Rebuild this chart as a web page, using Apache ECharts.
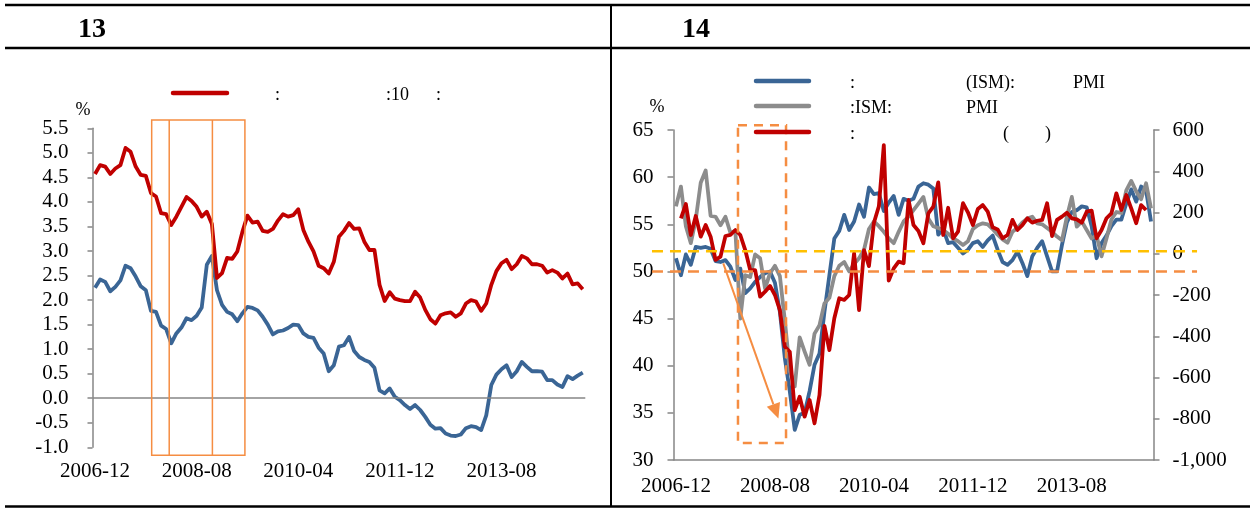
<!DOCTYPE html>
<html lang="en">
<head>
<meta charset="UTF-8">
<title>chart</title>
<style>
  body { margin: 0; background: #fff; }
  #main { width: 1252px; height: 509px; }
</style>
</head>
<body>
<div id="main"></div>
<script src="https://cdn.jsdelivr.net/npm/echarts@6/dist/echarts.min.js"></script>
<script>
// months 2006-12 .. 2014-12 (shared by both panels)
const months = [];
for (let i = 0; i < 97; i++) {
    const t = 2006 * 12 + 11 + i;
    months.push(Math.floor(t / 12) + '-' + String(t % 12 + 1).padStart(2, '0'));
}

// panel 13 (%)
const leftRed = [4.57, 4.75, 4.72, 4.57, 4.68, 4.75, 5.10, 5.02, 4.72, 4.55, 4.53, 4.18, 4.11, 3.77, 3.75, 3.53, 3.70, 3.90, 4.10, 4.02,
    3.90, 3.70, 3.80, 3.55, 2.45, 2.55, 2.86, 2.84, 2.99, 3.39, 3.72, 3.58, 3.60, 3.41, 3.39, 3.45, 3.62, 3.75, 3.70, 3.73,
    3.85, 3.43, 3.19, 2.99, 2.70, 2.65, 2.54, 2.78, 3.29, 3.41, 3.57, 3.45, 3.46, 3.19, 3.02, 3.02, 2.31, 1.98, 2.16, 2.03,
    2.00, 1.98, 1.98, 2.17, 2.05, 1.80, 1.61, 1.52, 1.69, 1.73, 1.75, 1.66, 1.73, 1.93, 2.00, 1.97, 1.78, 1.93, 2.31, 2.59,
    2.75, 2.82, 2.63, 2.73, 2.90, 2.85, 2.73, 2.73, 2.70, 2.56, 2.61, 2.56, 2.44, 2.54, 2.32, 2.34, 2.22];
const leftBlue = [2.25, 2.42, 2.37, 2.18, 2.27, 2.40, 2.70, 2.65, 2.48, 2.28, 2.20, 1.78, 1.76, 1.48, 1.41, 1.12, 1.32, 1.44, 1.63, 1.59,
    1.68, 1.85, 2.72, 2.90, 2.20, 1.90, 1.76, 1.71, 1.57, 1.73, 1.86, 1.84, 1.79, 1.66, 1.50, 1.30, 1.36, 1.38, 1.43, 1.50,
    1.49, 1.32, 1.25, 1.23, 1.03, 0.91, 0.55, 0.67, 1.05, 1.08, 1.25, 0.96, 0.84, 0.78, 0.74, 0.62, 0.16, 0.10, 0.20, 0.03,
    -0.04, -0.14, -0.22, -0.14, -0.24, -0.38, -0.54, -0.62, -0.61, -0.72, -0.76, -0.77, -0.74, -0.61, -0.57, -0.59, -0.65, -0.35, 0.27, 0.48,
    0.59, 0.67, 0.43, 0.55, 0.74, 0.64, 0.55, 0.55, 0.54, 0.37, 0.37, 0.28, 0.23, 0.45, 0.39, 0.46, 0.52];

// panel 14: PMI (left axis) and payrolls (right axis)
const pmiBlue = [51.4, 49.6, 51.8, 50.7, 52.6, 52.5, 52.6, 52.4, 51.1, 51.0, 51.2, 50.5, 49.1, 50.3, 47.7, 48.2, 48.9, 49.4, 49.8, 50.0,
    48.8, 45.7, 40.8, 37.3, 33.2, 34.8, 35.0, 37.3, 40.1, 41.3, 45.7, 49.6, 53.5, 54.3, 56.0, 54.4, 55.3, 57.1, 55.8, 58.9,
    58.2, 58.3, 56.4, 57.3, 58.0, 56.0, 57.7, 57.5, 57.7, 59.0, 59.35, 59.2, 58.8, 53.9, 54.5, 53.0, 53.1, 52.5, 51.9, 52.3,
    53.0, 53.2, 52.6, 53.3, 53.8, 52.3, 51.0, 50.7, 51.2, 52.1, 50.9, 49.5, 51.6, 52.5, 53.2, 51.6, 50.0, 50.0, 52.8, 55.2,
    56.3, 56.5, 56.9, 56.8, 54.8, 51.4, 53.0, 53.8, 54.8, 55.5, 55.5, 57.2, 58.7, 57.4, 59.0, 58.6, 55.3];
const pmiGray = [56.9, 59.0, 54.8, 53.0, 55.5, 59.4, 60.7, 55.9, 55.8, 54.9, 55.8, 54.1, 54.3, 45.0, 49.6, 49.4, 51.8, 51.4, 48.2, 49.8,
    50.6, 49.5, 44.8, 39.5, 37.8, 43.0, 41.5, 40.1, 43.4, 44.3, 46.6, 47.2, 49.5, 50.6, 51.0, 50.0, 50.8, 51.4, 52.3, 54.5,
    55.3, 54.8, 54.2, 53.5, 53.0, 54.2, 55.3, 55.8, 56.5, 57.2, 57.9, 55.6, 54.8, 54.6, 54.4, 54.0, 53.5, 53.2, 52.8, 53.2,
    54.5, 54.9, 55.1, 55.0, 54.5, 53.9, 53.4, 53.05, 54.2, 54.6, 55.2, 55.6, 55.8, 55.1, 55.0, 54.6, 54.2, 53.7, 53.3, 55.8,
    57.9, 54.75, 55.3, 54.4, 53.5, 53.8, 51.6, 53.5, 55.5, 56.3, 56.2, 58.6, 59.6, 58.5, 57.65, 59.35, 56.7];
const payrolls = [null, 172, 241, 91, 183, 83, 139, 83, -30, -14, 86, 91, 115, 91, 18, -79, -79, -208, -184, -156,
    -200, -273, -451, -475, -758, -693, -790, -709, -822, -685, -350, -467, -313, -216, -224, -200, 2, -273, 18, -60,
    150, 230, 527, -130, -71, -38, -46, 261, 139, 110, 51, 196, 228, 346, 91, 223, 75, 107, 245, 201,
    139, 217, 236, 204, 128, 118, 75, 91, 164, 115, 139, 172, 151, 160, 164, 245, 86, 164, 180, 199,
    172, 167, 151, 204, 209, 75, 115, 172, 196, 293, 212, 285, 220, 148, 236, 212, null];

const serif = '"Liberation Serif", "Times New Roman", serif';
const axisGray = '#868686';
const cRed = '#C00000', cBlue = '#3A6595', cGray = '#8C8C8C';
const cOrange = '#F58D42', cYellow = '#FFC000';

const chart = echarts.init(document.getElementById('main'));

const labelStyle = { fontSize: 21, fontFamily: serif, color: '#000' };
const lineSeries = (name, data, color, xi, yi) => ({
    name, type: 'line', data, xAxisIndex: xi, yAxisIndex: yi,
    showSymbol: false, symbol: 'none',
    lineStyle: { color, width: 3.8, join: 'round' }, itemStyle: { color }
});

chart.setOption({
    animation: false,
    grid: [
        { left: 92.5, top: 128.3, width: 492.8, height: 319 },
        { left: 673.5, top: 130, width: 480, height: 330 }
    ],
    xAxis: [
        {
            type: 'category', gridIndex: 0, data: months, boundaryGap: true,
            axisLine: { show: false }, axisTick: { show: false },
            axisLabel: Object.assign({ interval: 19, margin: 14 }, labelStyle)
        },
        {
            type: 'category', gridIndex: 1, data: months, boundaryGap: true,
            axisLine: { show: true, onZero: false, lineStyle: { color: axisGray, width: 1.5 } },
            axisTick: { show: false },
            axisLabel: Object.assign({ interval: 19, margin: 16 }, labelStyle)
        }
    ],
    yAxis: [
        {
            type: 'value', gridIndex: 0, min: -1, max: 5.5, interval: 0.5,
            axisLine: { show: true, onZero: false, lineStyle: { color: axisGray, width: 1.5 } },
            axisTick: { show: true, length: 5, lineStyle: { color: axisGray, width: 1.5 } },
            splitLine: { show: false },
            axisLabel: Object.assign({ margin: 24, formatter: v => v.toFixed(1) }, labelStyle)
        },
        {
            type: 'value', gridIndex: 1, position: 'left', min: 30, max: 65, interval: 5,
            axisLine: { show: true, onZero: false, lineStyle: { color: axisGray, width: 1.5 } },
            axisTick: { show: true, length: 6, lineStyle: { color: axisGray, width: 1.5 } },
            splitLine: { show: false },
            axisLabel: Object.assign({ margin: 20 }, labelStyle)
        },
        {
            type: 'value', gridIndex: 1, position: 'right', min: -1000, max: 600, interval: 200,
            axisLine: { show: true, onZero: false, lineStyle: { color: axisGray, width: 1.5 } },
            axisTick: { show: true, length: 6, lineStyle: { color: axisGray, width: 1.5 } },
            splitLine: { show: false },
            axisLabel: Object.assign({ margin: 19, formatter: v => v.toLocaleString('en-US') }, labelStyle)
        }
    ],
    series: [
        Object.assign(lineSeries('blue13', leftBlue, cBlue, 0, 0), {
            markLine: {
                silent: true, symbol: 'none', label: { show: false },
                lineStyle: { color: axisGray, type: 'solid', width: 1.5 },
                data: [{ yAxis: 0 }]
            }
        }),
        lineSeries('red13', leftRed, cRed, 0, 0),
        lineSeries('ism', pmiBlue, cBlue, 1, 1),
        lineSeries('ismNonMfg', pmiGray, cGray, 1, 1),
        lineSeries('payrolls', payrolls, cRed, 1, 2)
    ]
});

// pixel from (category index, value); index may be fractional
function pt(xAxisIndex, yAxisIndex, xi, yv) {
    const a = chart.convertToPixel({ xAxisIndex, yAxisIndex }, [0, yv]);
    const b = chart.convertToPixel({ xAxisIndex, yAxisIndex }, [1, yv]);
    return [a[0] + (b[0] - a[0]) * xi, a[1]];
}

const g = [];
const hline = (x1, y1, x2, y2, stroke, w, dash) =>
    g.push({ type: 'line', z: 100, shape: { x1, y1, x2, y2 }, style: { stroke, lineWidth: w, lineDash: dash || null } });
const txt = (x, y, text, font, align) =>
    g.push({ type: 'text', z: 100, x, y, style: { text, font, fill: '#000', align: align || 'left', textAlign: align || 'left', verticalAlign: 'middle', textVerticalAlign: 'middle' } });

// table frame
hline(5, 5, 1250, 5, '#000', 2.5);
hline(5, 48, 1250, 48, '#000', 2.5);
hline(5, 506.5, 1250, 506.5, '#000', 2.5);
hline(611, 5, 611, 506.5, '#000', 2);
txt(78, 30, '13', 'bold 28px ' + serif);
txt(682, 30, '14', 'bold 28px ' + serif);

// unit labels
txt(83, 110, '%', '18px ' + serif, 'center');
txt(657, 107, '%', '18px ' + serif, 'center');

// legends
const legendFont = '18px ' + serif;
const legLine = (x1, x2, y, color) =>
    g.push({ type: 'line', z: 100, shape: { x1, y1: y, x2, y2: y }, style: { stroke: color, lineWidth: 4.5, lineCap: 'round' } });
legLine(173, 227, 93, cRed);
txt(275, 95, ':', legendFont);
txt(386, 95, ':10', legendFont);
txt(436, 95, ':', legendFont);

legLine(756, 809, 81, cBlue);
txt(850, 83, ':', legendFont);
txt(966, 83, '(ISM):', legendFont);
txt(1073, 83, 'PMI', legendFont);
legLine(756, 809, 106, cGray);
txt(850, 108, ':ISM:', legendFont);
txt(966, 108, 'PMI', legendFont);
legLine(756, 809, 132, cRed);
txt(850, 134, ':', legendFont);
txt(1003, 134, '(', legendFont);
txt(1045, 134, ')', legendFont);

// panel 13 highlight box
{
    const tl = pt(0, 0, 11.15, 5.67), br = pt(0, 0, 29.5, -1.16);
    g.push({ type: 'rect', z: 90, shape: { x: tl[0], y: tl[1], width: br[0] - tl[0], height: br[1] - tl[1] },
        style: { fill: 'none', stroke: cOrange, lineWidth: 1.5 } });
    [14.6, 23.1].forEach(i => {
        const p = pt(0, 0, i, 0);
        hline(p[0], tl[1], p[0], br[1], cOrange, 1.5);
    });
}

// panel 14 annotations
{
    const tl = pt(1, 1, 12.53, 65.5), br = pt(1, 1, 22.24, 31.8);
    g.push({ type: 'rect', z: 90, shape: { x: tl[0], y: tl[1], width: br[0] - tl[0], height: br[1] - tl[1] },
        style: { fill: 'none', stroke: cOrange, lineWidth: 2.5, lineDash: [9, 7] } });

    const y50 = pt(1, 1, 0, 50)[1];
    const y0 = pt(1, 2, 0, 12)[1];
    const xa = pt(1, 1, -4.85, 50)[0], xb = pt(1, 1, 105.3, 50)[0];
    hline(xa, y50, xb, y50, cOrange, 2.5, [11, 7]);
    hline(xa, y0, xb, y0, cYellow, 2.5, [11, 7]);

    const p1 = pt(1, 1, 9.56, 50.86), p2 = pt(1, 1, 20.7, 34.4);
    const dx = p2[0] - p1[0], dy = p2[1] - p1[1], len = Math.hypot(dx, dy);
    const ux = dx / len, uy = dy / len;
    const bx = p2[0] - ux * 15, by = p2[1] - uy * 15;
    hline(p1[0], p1[1], bx, by, cOrange, 2);
    g.push({ type: 'polygon', z: 100, shape: { points: [p2, [bx - uy * 7, by + ux * 7], [bx + uy * 7, by - ux * 7]] },
        style: { fill: cOrange } });
}

chart.setOption({ graphic: g });
</script>
</body>
</html>
